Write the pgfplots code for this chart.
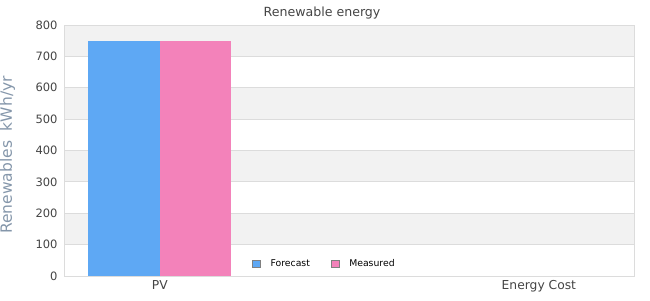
\documentclass[border=0pt]{standalone}
\usepackage{pgfplots}
\pgfplotsset{compat=1.18}
\usepackage{fontspec}
\setmainfont{DejaVu Sans}
\definecolor{blueC}{HTML}{5EA8F4}
\definecolor{pinkC}{HTML}{F382BA}
\definecolor{bandC}{HTML}{F2F2F2}
\definecolor{gridC}{HTML}{DCDCDC}
\definecolor{tickC}{HTML}{444444}
\definecolor{ylabC}{HTML}{8496AA}
\begin{document}
\begin{tikzpicture}
\useasboundingbox (0pt,0pt) rectangle (650pt,300pt);
\fill[bandC] (64pt,55.375pt) rectangle (634pt,86.75pt);
\fill[bandC] (64pt,118.125pt) rectangle (634pt,149.5pt);
\fill[bandC] (64pt,180.875pt) rectangle (634pt,212.25pt);
\fill[bandC] (64pt,243.625pt) rectangle (634pt,275pt);
\begin{axis}[
  at={(64pt,24pt)}, anchor=south west,
  scale only axis, width=570pt, height=251pt,
  xmin=-0.253, xmax=1.251, ymin=0, ymax=800,
  ytick={0,100,...,800},
  xtick={0,1}, xticklabels={PV,Energy Cost},
  ybar=0pt, bar width=71.5pt,
  major tick length=0pt,
  ymajorgrids, grid style={gridC, line width=0.8pt},
  axis line style={gridC, line width=1pt},
  /pgf/number format/assume math mode=true,
  yticklabel style={font=\fontsize{11.5}{13}\selectfont, text=tickC, xshift=-3pt},
  xticklabel style={font=\fontsize{12.3}{14}\selectfont, text=tickC, yshift=-1pt},
  legend style={at={(0.457,0.048)}, anchor=center, draw=none, fill=none,
    font=\fontsize{9.3}{11}\selectfont, legend columns=2,
    /tikz/every odd column/.append style={column sep=8pt},
    /tikz/every even column/.append style={column sep=19pt}},
  legend cell align=left,
]
\addplot[fill=blueC, draw=none,
  legend image code/.code={\draw[fill=blueC, draw=gray, line width=0.7pt] (0pt,-3.8pt) rectangle (7.6pt,3.8pt);}]
  coordinates {(0,750)};
\addlegendentry{Forecast}
\addplot[fill=pinkC, draw=none,
  legend image code/.code={\draw[fill=pinkC, draw=gray, line width=0.7pt] (0pt,-3.8pt) rectangle (7.6pt,3.8pt);}]
  coordinates {(0,750)};
\addlegendentry{Measured}
\end{axis}
\node[font=\fontsize{12.6}{14}\selectfont, text=tickC] at (322pt,287pt) {Renewable energy};
\node[rotate=90, font=\fontsize{15.5}{17}\selectfont, text=ylabC] at (7.5pt,145pt) {Renewables\ \ kWh/yr};
\end{tikzpicture}
\end{document}
